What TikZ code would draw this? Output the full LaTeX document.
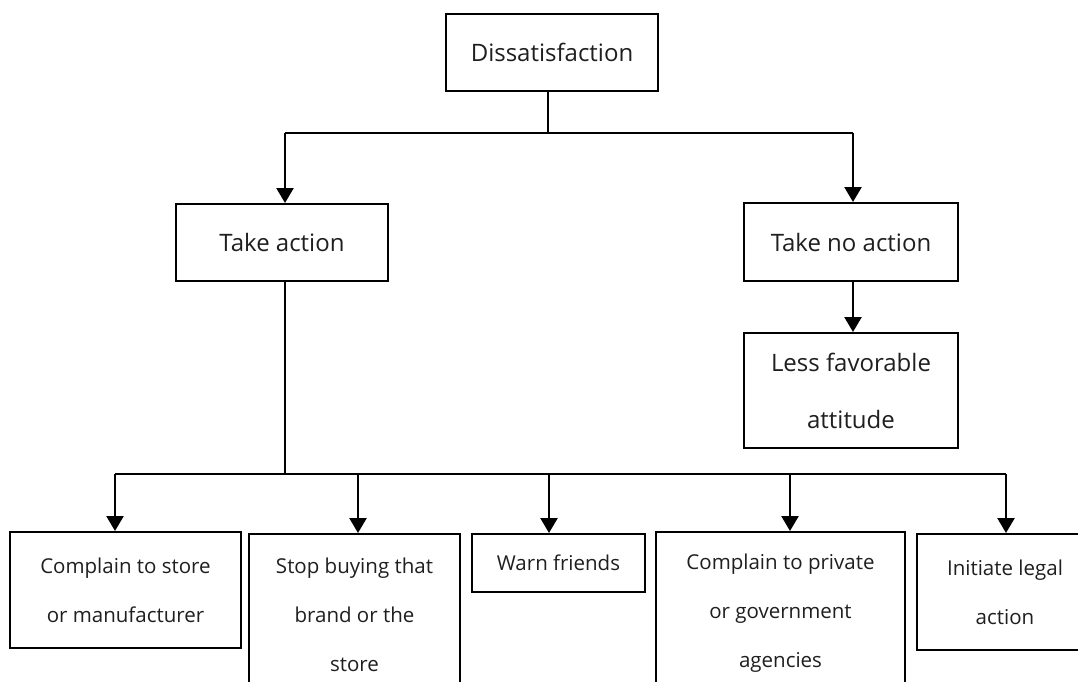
\documentclass[tikz,border=0pt]{standalone}
\usepackage{fontspec}
\setmainfont{Open Sans}
\usetikzlibrary{arrows.meta}

\tikzset{
  box/.style={draw=black, line width=2pt, rectangle, inner sep=0pt, align=center,
              text=black!88},
  bigbox/.style={box, font=\fontsize{24}{57}\selectfont},
  smallbox/.style={box, font=\fontsize{20.5}{49}\selectfont},
  link/.style={line width=2.5pt, black},
  arr/.style={link, -{Triangle[width=17pt,length=15pt]}}
}

\begin{document}
\begin{tikzpicture}[x=1pt,y=-1pt]
  \useasboundingbox (0,0) rectangle (1078,682);
  \clip (0,0) rectangle (1078,682);
  \fill[white] (0,0) rectangle (1078,682);

  % upper level
  \node[bigbox, minimum width=212pt, minimum height=77pt] (dis) at (552,52.5) {Dissatisfaction};
  \node[bigbox, minimum width=212pt, minimum height=77pt] (act) at (282,242.5) {Take action};
  \node[bigbox, minimum width=214pt, minimum height=78pt] (noact) at (851,242) {Take no action};
  \node[bigbox, minimum width=214pt, minimum height=115pt] (less) at (851,390.5) {Less favorable\\attitude};

  % lower level
  \node[smallbox, minimum width=231pt, minimum height=116pt] (b1) at (125.5,590) {Complain to store\\or manufacturer};
  \node[smallbox, minimum width=211pt, minimum height=162pt] (b2) at (354.5,615) {Stop buying that\\brand or the\\store};
  \node[smallbox, minimum width=173pt, minimum height=58pt] (b3) at (558.5,563) {Warn friends};
  \node[smallbox, minimum width=249pt, minimum height=162pt] (b4) at (780.5,613) {Complain to private\\or government\\agencies};
  \node[smallbox, minimum width=176pt, minimum height=116pt] (b5) at (1005,592) {Initiate legal\\action};

  % junction points
  \coordinate (hub) at (548,133);
  \coordinate (ta) at (285,133);
  \coordinate (tn) at (853,133);
  \coordinate (bus) at (285,474);
  \coordinate (k1) at (115,474);
  \coordinate (k2) at (358,474);
  \coordinate (k3) at (549,474);
  \coordinate (k4) at (790,474);
  \coordinate (k5) at (1006,474);

  % first split
  \draw[link, line width=2pt] (dis.south -| hub) -- (hub);
  \draw[link] (ta) -- (tn);
  \draw[arr] (ta) -- (ta |- act.north);
  \draw[arr] (tn) -- (tn |- noact.north);
  \draw[arr] (tn |- noact.south) -- (tn |- less.north);

  % second split
  \draw[link, line width=2pt] (act.south -| bus) -- (bus);
  \draw[link] (k1) -- (k5);
  \draw[arr] (k1) -- (k1 |- b1.north);
  \draw[arr] (k2) -- (k2 |- b2.north);
  \draw[arr] (k3) -- (k3 |- b3.north);
  \draw[arr] (k4) -- (k4 |- b4.north);
  \draw[arr] (k5) -- (k5 |- b5.north);
\end{tikzpicture}
\end{document}
